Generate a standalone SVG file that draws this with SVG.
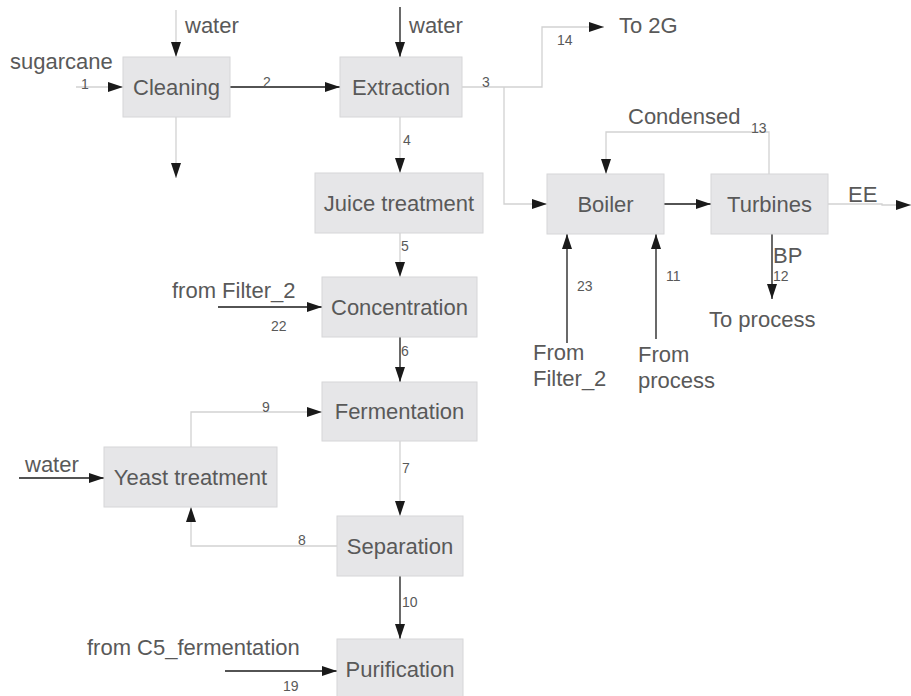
<svg xmlns="http://www.w3.org/2000/svg" width="911" height="696" viewBox="0 0 911 696">
<style>
.box{fill:#e6e6e8;stroke:#d6d6d8;stroke-width:1}
.t{font-family:"Liberation Sans",Arial,sans-serif;font-size:22px;fill:#595959}
.c{text-anchor:middle}
.n{font-family:"Liberation Sans",Arial,sans-serif;font-size:14px;fill:#595959}
.g{fill:none;stroke:#d2d2d2;stroke-width:1.3}
.k{fill:none;stroke:#1a1a1a;stroke-width:1.3}
</style>
<defs>
<marker id="a" viewBox="0 0 15 10" refX="15" refY="5" markerWidth="15" markerHeight="10" markerUnits="userSpaceOnUse" orient="auto">
<path d="M0,0 L15,5 L0,10 z" fill="#1a1a1a"/>
</marker>
</defs>
<rect width="911" height="696" fill="#ffffff"/>
<g id="connectors">
<path class="g" d="M176,10 V57" marker-end="url(#a)"/>
<path class="g" d="M76,87 H123" marker-end="url(#a)"/>
<path class="g" d="M176,117 V178" marker-end="url(#a)"/>
<path class="k" d="M230,87 H340" marker-end="url(#a)"/>
<path class="k" d="M400,7 V57" marker-end="url(#a)"/>
<path class="g" d="M462,87 H542 V27 H604" marker-end="url(#a)"/>
<path class="g" d="M504,87 V204 H547" marker-end="url(#a)"/>
<path class="g" d="M400,117 V173" marker-end="url(#a)"/>
<path class="g" d="M400,233 V277" marker-end="url(#a)"/>
<path class="k" d="M218,307 H322" marker-end="url(#a)"/>
<path class="k" d="M400,337 V382" marker-end="url(#a)"/>
<path class="g" d="M191,447 V412 H322" marker-end="url(#a)"/>
<path class="k" d="M19,478 H104" marker-end="url(#a)"/>
<path class="g" d="M400,441 V516" marker-end="url(#a)"/>
<path class="g" d="M337,546 H191 V507" marker-end="url(#a)"/>
<path class="k" d="M400,575 V639" marker-end="url(#a)"/>
<path class="k" d="M225,671 H337" marker-end="url(#a)"/>
<path class="k" d="M664,204 H711" marker-end="url(#a)"/>
<path class="g" d="M769,174 V132 H606 V174" marker-end="url(#a)"/>
<path class="g" d="M828,204 H882 V205 H911" marker-end="url(#a)"/>
<path class="k" d="M772,234 V299" marker-end="url(#a)"/>
<path class="k" d="M567,343 V234" marker-end="url(#a)"/>
<path class="k" d="M656,339 V234" marker-end="url(#a)"/>
</g>
<g id="cleaning"><rect class="box" x="123" y="57" width="107" height="60"/><text class="t c" x="176.5" y="95">Cleaning</text></g>
<g id="extraction"><rect class="box" x="340" y="57" width="122" height="60"/><text class="t c" x="401" y="95">Extraction</text></g>
<g id="juice"><rect class="box" x="315" y="173" width="168" height="60"/><text class="t c" x="399" y="211">Juice treatment</text></g>
<g id="concentration"><rect class="box" x="322" y="277" width="155" height="60"/><text class="t c" x="399.5" y="315">Concentration</text></g>
<g id="fermentation"><rect class="box" x="322" y="382" width="155" height="59"/><text class="t c" x="399.5" y="419">Fermentation</text></g>
<g id="yeast"><rect class="box" x="104" y="447" width="173" height="60"/><text class="t c" x="190.5" y="485">Yeast treatment</text></g>
<g id="separation"><rect class="box" x="337" y="516" width="126" height="60"/><text class="t c" x="400" y="554">Separation</text></g>
<g id="purification"><rect class="box" x="337" y="639" width="126" height="60"/><text class="t c" x="400" y="677">Purification</text></g>
<g id="boiler"><rect class="box" x="547" y="174" width="117" height="60"/><text class="t c" x="605.5" y="212">Boiler</text></g>
<g id="turbines"><rect class="box" x="711" y="174" width="117" height="60"/><text class="t c" x="769.5" y="212">Turbines</text></g>
<g id="labels">
<text class="t" x="185" y="33">water</text>
<text class="t" x="10" y="69">sugarcane</text>
<text class="n" x="81" y="89">1</text>
<text class="n" x="263" y="87">2</text>
<text class="t" x="409" y="33">water</text>
<text class="n" x="482" y="87">3</text>
<text class="n" x="557" y="45">14</text>
<text class="t" x="619" y="33">To 2G</text>
<text class="n" x="403" y="145">4</text>
<text class="n" x="401" y="251">5</text>
<text class="t" x="172" y="298">from Filter_2</text>
<text class="n" x="271" y="331">22</text>
<text class="n" x="401" y="356">6</text>
<text class="n" x="262" y="412">9</text>
<text class="t" x="25" y="472">water</text>
<text class="n" x="402" y="473">7</text>
<text class="n" x="298" y="545">8</text>
<text class="n" x="402" y="607">10</text>
<text class="t" x="87" y="655">from C5_fermentation</text>
<text class="n" x="283" y="691">19</text>
<text class="t" x="628" y="124">Condensed</text>
<text class="n" x="751" y="133">13</text>
<text class="t" x="848" y="202">EE</text>
<text class="t" x="773" y="263">BP</text>
<text class="n" x="773" y="281">12</text>
<text class="t" x="709" y="327">To process</text>
<text class="n" x="577" y="291">23</text>
<text class="t" x="533" y="360">From</text>
<text class="t" x="533" y="386">Filter_2</text>
<text class="n" x="666" y="281">11</text>
<text class="t" x="638" y="362">From</text>
<text class="t" x="638" y="388">process</text>
</g>
</svg>
